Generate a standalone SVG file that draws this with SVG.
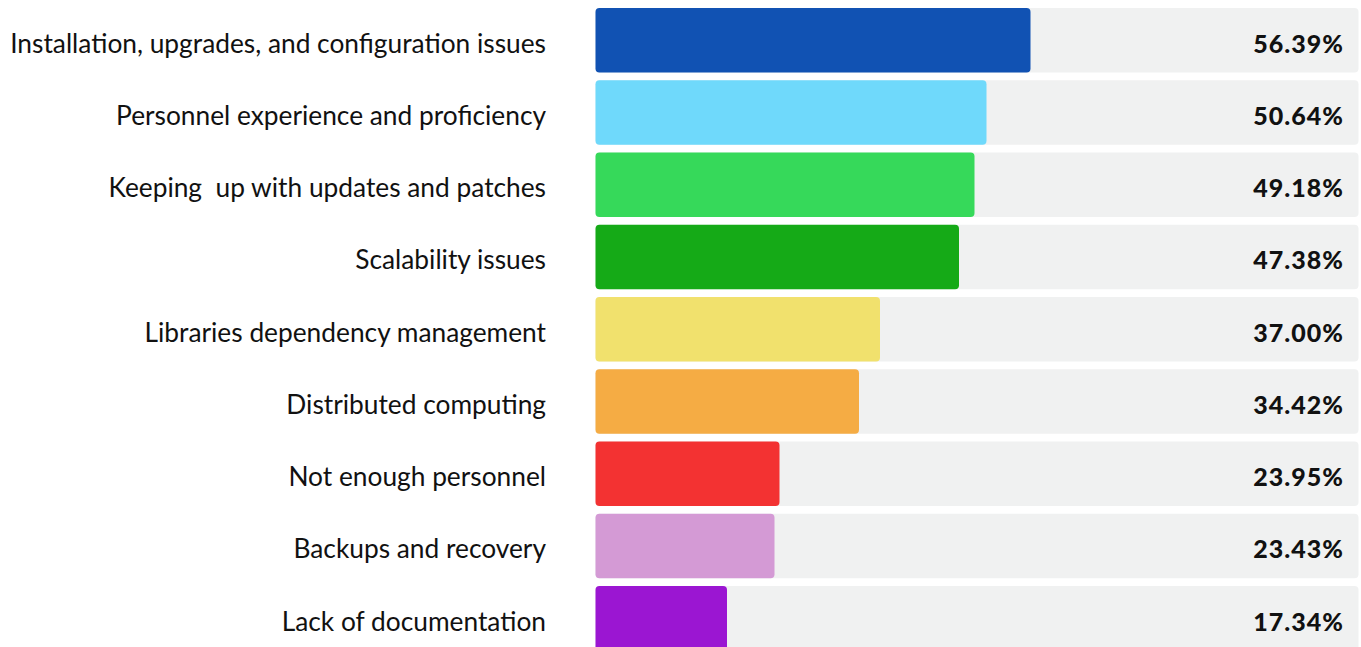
<svg xmlns="http://www.w3.org/2000/svg" width="1361" height="647" viewBox="0 0 1361 647">
<style>
.lbl{font-family:Lato,"Noto Sans",sans-serif;font-size:26.3px;fill:#111;text-anchor:end}
.val{font-family:Lato,"Noto Sans",sans-serif;font-size:25px;font-weight:900;fill:#111;text-anchor:end;letter-spacing:1px}
.bg{fill:#f0f1f1}
</style>
<rect width="1361" height="647" fill="#fff"/>
<g id="row1"><rect class="bg" x="595.5" y="8" width="763" height="64.5" rx="4"/><rect x="595.5" y="8" width="435" height="64.5" rx="4" fill="#1152b3"/><text class="lbl" x="546" y="52.5">Installation, upgrades, and configuration issues</text><text class="val" x="1344" y="52.5">56.39%</text></g>
<g id="row2"><rect class="bg" x="595.5" y="80.25" width="763" height="64.5" rx="4"/><rect x="595.5" y="80.25" width="391" height="64.5" rx="4" fill="#6fd9fb"/><text class="lbl" x="546" y="124.75">Personnel experience and proficiency</text><text class="val" x="1344" y="124.75">50.64%</text></g>
<g id="row3"><rect class="bg" x="595.5" y="152.5" width="763" height="64.5" rx="4"/><rect x="595.5" y="152.5" width="379" height="64.5" rx="4" fill="#36d95a"/><text class="lbl" x="546" y="197" xml:space="preserve">Keeping  up with updates and patches</text><text class="val" x="1344" y="197">49.18%</text></g>
<g id="row4"><rect class="bg" x="595.5" y="224.75" width="763" height="64.5" rx="4"/><rect x="595.5" y="224.75" width="363.5" height="64.5" rx="4" fill="#15aa17"/><text class="lbl" x="546" y="269.25">Scalability issues</text><text class="val" x="1344" y="269.25">47.38%</text></g>
<g id="row5"><rect class="bg" x="595.5" y="297" width="763" height="64.5" rx="4"/><rect x="595.5" y="297" width="284.5" height="64.5" rx="4" fill="#f1e16d"/><text class="lbl" x="546" y="341.5">Libraries dependency management</text><text class="val" x="1344" y="341.5">37.00%</text></g>
<g id="row6"><rect class="bg" x="595.5" y="369.25" width="763" height="64.5" rx="4"/><rect x="595.5" y="369.25" width="263.5" height="64.5" rx="4" fill="#f5ac44"/><text class="lbl" x="546" y="413.75">Distributed computing</text><text class="val" x="1344" y="413.75">34.42%</text></g>
<g id="row7"><rect class="bg" x="595.5" y="441.5" width="763" height="64.5" rx="4"/><rect x="595.5" y="441.5" width="184" height="64.5" rx="4" fill="#f33232"/><text class="lbl" x="546" y="486">Not enough personnel</text><text class="val" x="1344" y="486">23.95%</text></g>
<g id="row8"><rect class="bg" x="595.5" y="513.75" width="763" height="64.5" rx="4"/><rect x="595.5" y="513.75" width="179" height="64.5" rx="4" fill="#d49ad5"/><text class="lbl" x="546" y="558.25">Backups and recovery</text><text class="val" x="1344" y="558.25">23.43%</text></g>
<g id="row9"><rect class="bg" x="595.5" y="586" width="763" height="64.5" rx="4"/><rect x="595.5" y="586" width="131.5" height="64.5" rx="4" fill="#9b16d2"/><text class="lbl" x="546" y="630.5">Lack of documentation</text><text class="val" x="1344" y="630.5">17.34%</text></g>
<g id="connectors"/>
</svg>
